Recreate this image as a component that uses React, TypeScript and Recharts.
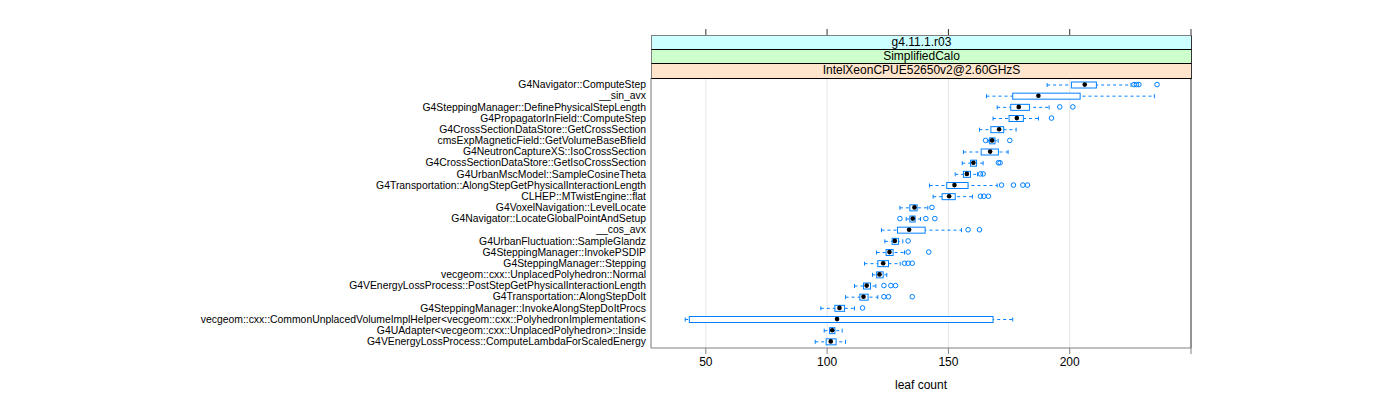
import { ComposedChart, Bar, Scatter, XAxis, YAxis, CartesianGrid, ReferenceLine } from "recharts";

const functions = [
  "G4Navigator::ComputeStep",
  "__sin_avx",
  "G4SteppingManager::DefinePhysicalStepLength",
  "G4PropagatorInField::ComputeStep",
  "G4CrossSectionDataStore::GetCrossSection",
  "cmsExpMagneticField::GetVolumeBaseBfield",
  "G4NeutronCaptureXS::IsoCrossSection",
  "G4CrossSectionDataStore::GetIsoCrossSection",
  "G4UrbanMscModel::SampleCosineTheta",
  "G4Transportation::AlongStepGetPhysicalInteractionLength",
  "CLHEP::MTwistEngine::flat",
  "G4VoxelNavigation::LevelLocate",
  "G4Navigator::LocateGlobalPointAndSetup",
  "__cos_avx",
  "G4UrbanFluctuation::SampleGlandz",
  "G4SteppingManager::InvokePSDIP",
  "G4SteppingManager::Stepping",
  "vecgeom::cxx::UnplacedPolyhedron::Normal",
  "G4VEnergyLossProcess::PostStepGetPhysicalInteractionLength",
  "G4Transportation::AlongStepDoIt",
  "G4SteppingManager::InvokeAlongStepDoItProcs",
  "vecgeom::cxx::CommonUnplacedVolumeImplHelper<vecgeom::cxx::PolyhedronImplementation<",
  "G4UAdapter<vecgeom::cxx::UnplacedPolyhedron>::Inside",
  "G4VEnergyLossProcess::ComputeLambdaForScaledEnergy",
];

const whiskerLow = [190.7, 165.7, 170.1, 168.4, 162.8, 166.3, 156.2, 155.7, 152.8, 142.2, 143.7, 130, 132.6, 122.4, 123.8, 120.4, 115.4, 118.7, 111.3, 107.6, 97.4, 41.5, 98.8, 95.1];
const boxLow = [200.7, 176.5, 175.7, 175, 167.5, 167, 163.5, 159.1, 156.2, 149.3, 147.4, 134.1, 134.1, 129, 126.8, 124.3, 120.9, 120.4, 115, 113.5, 103.2, 43.2, 101, 99.6];
const medians = [206.2, 187.1, 179, 178.2, 170.9, 168, 167.2, 160.3, 157.6, 152.5, 150.3, 136, 135.3, 133.8, 127.9, 125.7, 123.1, 121.6, 116.3, 115, 105.1, 104.1, 102.1, 101.5];
const boxHigh = [211, 204.3, 183.4, 180.9, 172.8, 169.2, 170.6, 161.6, 159.1, 158.1, 152.8, 137.1, 136.3, 140.4, 129.4, 127.2, 125.3, 123.1, 117.9, 116.9, 107.2, 168.4, 103.2, 103.7];
const whiskerHigh = [225.3, 234.9, 191.5, 187.1, 177.9, 170.5, 174.6, 164.3, 162, 170.1, 159.9, 141.5, 138.5, 155.4, 131.2, 131.9, 130.1, 124.6, 120.1, 120.9, 111.3, 176.5, 106.2, 107.6];
const outliers: number[][] = [
  [226.5, 227.5, 228.5, 236],
  [],
  [195.9, 201.3],
  [192.5],
  [],
  [165.3, 175.3],
  [],
  [170.6, 171.3],
  [163.2, 164.3],
  [171.9, 176.8, 180.7, 182.6],
  [163.2, 164.6, 166.5],
  [143.2],
  [130, 140.7, 144.4],
  [158.1, 162.8],
  [133.4],
  [133.4, 141.9],
  [131.9, 133.4, 135.1],
  [],
  [123.4, 126.3, 128.2],
  [123.4, 125.3, 135.1],
  [114.6],
  [],
  [],
  [],
];

const xTicks = [50, 100, 150, 200, 250];
const xDomain = [27.4, 250];
const stripLabels = ["g4.11.1.r03", "SimplifiedCalo", "IntelXeonCPUE52650v2@2.60GHzS"];
const stripColors = ["#ccffff", "#ccffcc", "#ffe5cc"];

const BLUE = "#0080ff";
const FONT = "'Liberation Sans', Arial, Helvetica, sans-serif";

const rows = functions.map((name, i) => ({
  name,
  whisk: [whiskerLow[i], whiskerHigh[i]],
  box: [boxLow[i], boxHigh[i]],
  med: medians[i],
}));

const outlierPoints = outliers.flatMap((vals, i) => vals.map((v) => ({ name: functions[i], v })));

function Whisker(props: any) {
  const { x, y, width, height } = props;
  const cy = y + height / 2;
  return (
    <g stroke={BLUE} strokeWidth={1} fill="none">
      <line x1={x} x2={x + width} y1={cy} y2={cy} strokeDasharray="3 3" />
      <line x1={x} x2={x} y1={y} y2={y + height} />
      <line x1={x + width} x2={x + width} y1={y} y2={y + height} />
    </g>
  );
}

function BoxRect(props: any) {
  const { x, y, width, height } = props;
  return <rect x={x} y={y} width={width} height={height} fill="#fff" stroke={BLUE} strokeWidth={1} />;
}

export default function App() {
  return (
    <div style={{ position: "absolute", left: 0, top: 0, width: 1400, height: 400, background: "#fff", fontFamily: FONT }}>
      <ComposedChart
        width={1400}
        height={400}
        data={rows}
        layout="vertical"
        margin={{ top: 29, right: 209, bottom: 0, left: 0 }}
      >
        <CartesianGrid horizontal={false} stroke="#e6e6e6" />
        <XAxis
          type="number"
          domain={xDomain}
          ticks={xTicks}
          allowDataOverflow
          height={52}
          tickSize={6}
          tickMargin={3}
          stroke="#808080"
          tick={{ fill: "#000", fontSize: 12, fontFamily: FONT }}
          tickFormatter={(v) => (v === 250 ? "" : String(v))}
          label={{ value: "leaf count", position: "insideBottom", offset: 11, fill: "#000", fontSize: 12, fontFamily: FONT }}
        />
        <XAxis
          xAxisId="top"
          orientation="top"
          type="number"
          domain={xDomain}
          ticks={xTicks}
          allowDataOverflow
          height={49}
          tickSize={49}
          axisLine={false}
          tickLine={{ stroke: "#333" }}
          tickFormatter={() => ""}
          stroke="#333"
        />
        <YAxis
          type="category"
          dataKey="name"
          width={651}
          interval={0}
          allowDuplicatedCategory={false}
          padding={{ top: 1, bottom: 1 }}
          tickLine={false}
          tickSize={5}
          tickMargin={0}
          stroke="#808080"
          tick={{ fill: "#000", fontSize: 10.4, fontFamily: FONT }}
        />
        <YAxis yAxisId="w" type="category" dataKey="name" hide allowDuplicatedCategory={false} padding={{ top: 1, bottom: 1 }} />
        <YAxis yAxisId="b" type="category" dataKey="name" hide allowDuplicatedCategory={false} padding={{ top: 1, bottom: 1 }} />
        <Bar yAxisId="w" dataKey="whisk" barSize={4} shape={<Whisker />} isAnimationActive={false} />
        <Bar yAxisId="b" dataKey="box" barSize={6} shape={<BoxRect />} isAnimationActive={false} />
        <Scatter
          data={outlierPoints}
          dataKey="v"
          shape={(p: any) => <circle cx={p.cx} cy={p.cy} r={2.3} fill="none" stroke={BLUE} strokeWidth={1} />}
          isAnimationActive={false}
        />
        <Scatter
          dataKey="med"
          shape={(p: any) => <circle cx={p.cx} cy={p.cy} r={2.3} fill="#000" />}
          isAnimationActive={false}
        />
        <ReferenceLine x={250} stroke="#333" />
      </ComposedChart>
      {stripLabels.map((label, i) => (
        <div
          key={label}
          style={{
            position: "absolute",
            left: 651,
            top: i === 0 ? 35 : 35 + 15 + (i - 1) * 14,
            width: 541,
            height: i === 1 ? 14 : 15,
            boxSizing: "border-box",
            background: stripColors[i],
            borderTop: i === 0 ? "1px solid #808080" : "none",
            borderBottom: "1px solid #000",
            borderLeft: "1px solid #808080",
            borderRight: "1px solid #333",
            fontSize: 12,
            lineHeight: "13px",
            textAlign: "center",
            color: "#000",
          }}
        >
          {label}
        </div>
      ))}
    </div>
  );
}
